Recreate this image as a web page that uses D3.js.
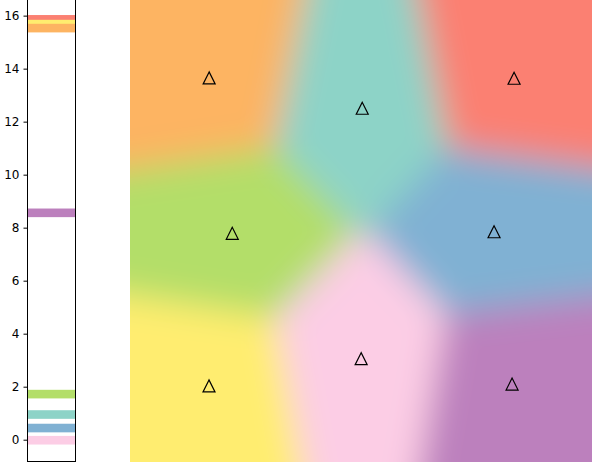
<!DOCTYPE html>
<html>
<head>
<meta charset="utf-8">
<script src="https://cdn.jsdelivr.net/npm/d3@7"></script>
<style>
  html, body { margin: 0; padding: 0; background: #fff; }
  svg { display: block; font-family: "DejaVu Sans", sans-serif; }
</style>
</head>
<body>
<svg id="chart" width="592" height="466"></svg>
<script>
// Set3-style pastel palette, one colour per site
const siteNames = ['orange', 'teal', 'salmon', 'green', 'blue', 'pink', 'yellow', 'purple'];
const siteColors = ['#fdb462', '#8dd3c7', '#fb8072', '#b3de69', '#80b1d3', '#fccde5', '#ffed6f', '#bc80bd'];
// site positions (grid units, 0..3, y up)
const siteX = [0.514, 1.508, 2.494, 0.664, 2.364, 1.501, 0.513, 2.481];
const siteY = [2.494, 2.297, 2.492, 1.485, 1.495, 0.671, 0.494, 0.506];

// strip on the left: one band per site, drawn in this order
const bandNames = ['pink', 'blue', 'teal', 'green', 'purple', 'red', 'yellow', 'orange'];
const bandColors = ['#fccde5', '#80b1d3', '#8dd3c7', '#b3de69', '#bc80bd', '#fb8072', '#ffed6f', '#fdb462'];
const bandValues = [-0.02, 0.44, 0.95, 1.72, 8.56, 15.86, 15.68, 15.53];
const yTicks = [0, 2, 4, 6, 8, 10, 12, 14, 16];

const svg = d3.select('#chart');

// ---- left strip ----
const strip = { left: 27.5, right: 75.5, top: -2, bottom: 461.5 };
const y = d3.scaleLinear().domain([-0.815, 16.59]).range([461.3, 0]);
const bandH = 0.325;

const gs = svg.append('g');
gs.selectAll('rect.band')
  .data(bandValues)
  .join('rect')
    .attr('class', 'band')
    .attr('x', strip.left)
    .attr('width', strip.right - strip.left)
    .attr('y', d => y(d + bandH / 2))
    .attr('height', d => y(d - bandH / 2) - y(d + bandH / 2))
    .attr('fill', (d, i) => bandColors[i]);

gs.append('rect')
    .attr('x', strip.left)
    .attr('y', strip.top)
    .attr('width', strip.right - strip.left)
    .attr('height', strip.bottom - strip.top)
    .attr('fill', 'none')
    .attr('stroke', '#000')
    .attr('stroke-width', 1);

const yAxis = svg.append('g')
    .attr('transform', `translate(${strip.left},0)`)
    .call(d3.axisLeft(y).tickValues(yTicks).tickSize(4).tickPadding(4));
yAxis.select('.domain').remove();
yAxis.selectAll('text').attr('font-size', 12).attr('font-family', '"DejaVu Sans", sans-serif').attr('fill', '#000');
yAxis.selectAll('line').attr('stroke', '#000');

// ---- blurred nearest-site map ----
const img = { x0: 130, x1: 592, y0: 0, y1: 462 };
const gx = d3.scaleLinear().domain([0, 3]).range([img.x0, img.x1]);
const gy = d3.scaleLinear().domain([0, 3]).range([img.y1, img.y0]);

const defs = svg.append('defs');
defs.append('clipPath').attr('id', 'imgClip')
  .append('rect')
    .attr('x', img.x0).attr('y', img.y0)
    .attr('width', img.x1 - img.x0).attr('height', img.y1 - img.y0);
defs.append('filter').attr('id', 'soft')
    .attr('filterUnits', 'userSpaceOnUse')
    .attr('x', gx(-1)).attr('y', gy(4))
    .attr('width', gx(4) - gx(-1)).attr('height', gy(-1) - gy(4))
  .append('feGaussianBlur').attr('stdDeviation', 17);

const pts = siteX.map((d, i) => [gx(d), gy(siteY[i])]);
const voronoi = d3.Delaunay.from(pts).voronoi([gx(-1), gy(4), gx(4), gy(-1)]);

const gm = svg.append('g').attr('clip-path', 'url(#imgClip)');
gm.append('g').attr('filter', 'url(#soft)')
  .selectAll('path')
  .data(pts)
  .join('path')
    .attr('d', (d, i) => voronoi.renderCell(i))
    .attr('fill', (d, i) => siteColors[i])
    .attr('stroke', (d, i) => siteColors[i])
    .attr('stroke-width', 1);

// triangle markers
const tri = d3.line()([[0, -6], [-6, 6], [6, 6]]) + 'Z';
svg.append('g')
  .selectAll('path')
  .data(pts)
  .join('path')
    .attr('transform', d => `translate(${d[0]},${d[1]})`)
    .attr('d', tri)
    .attr('fill', 'none')
    .attr('stroke', '#000')
    .attr('stroke-width', 1.2)
    .attr('stroke-linejoin', 'miter');
</script>
</body>
</html>
